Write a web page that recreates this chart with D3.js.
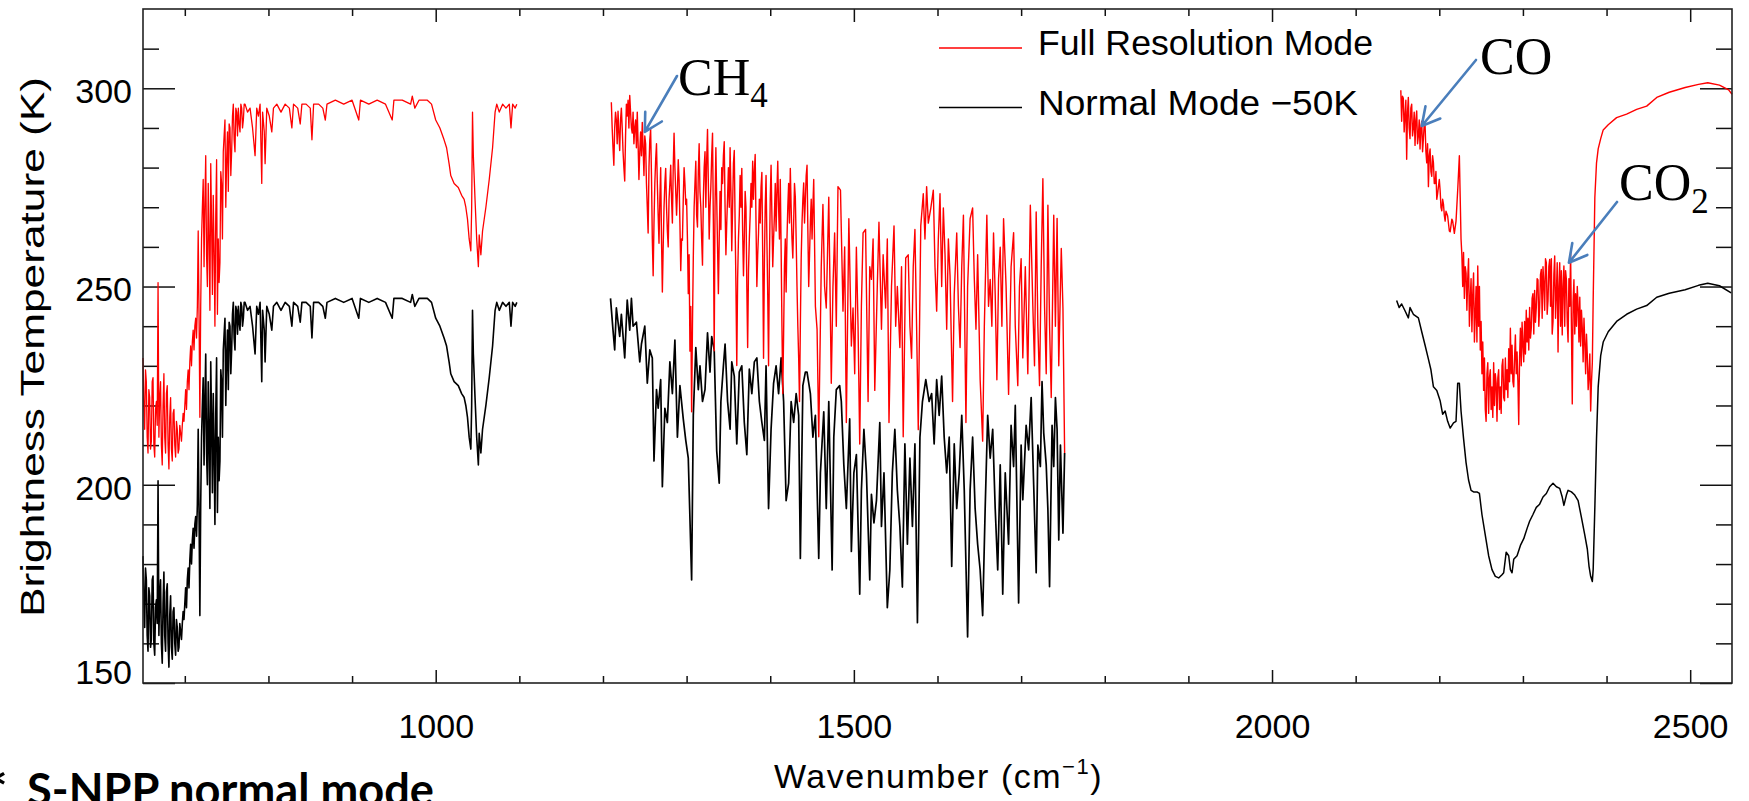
<!DOCTYPE html>
<html>
<head>
<meta charset="utf-8">
<script src="https://cdn.jsdelivr.net/npm/d3@7"></script>
<style>
  body { margin: 0; background: #fff; }
  svg { display: block; }
</style>
</head>
<body>
<svg id="chart"></svg>
<script>
// [wavenumber cm-1, brightness temperature K]
const fullLW = [[650,232],[651,220],[652,214],[653,229],[654,226],[655,212],[656,208],[657,224],[658,222],[659,209],[660,211],[661,226],[662,227],[663,210],[664,207],[665,219],[666,221],[667,215],[668,251],[669,212],[670,222],[671,226],[672,210],[673,205],[674,220],[675,228],[676,212],[677,208],[678,223],[679,225],[680,210],[681,204],[682,217],[683,222],[684,209],[685,206],[686,218],[687,219],[688,210],[689,207],[690,216],[691,214],[692,208],[693,209],[694,215],[695,213],[696,211],[697,215],[698,218],[699,216],[700,220],[701,224],[702,219],[703,226],[704,229],[705,224],[706,231],[707,235],[708,230],[709,236],[710,239],[711,234],[712,240],[713,242],[714,237],[715,245],[716,264],[717,243],[718,217],[719,245],[720,262],[721,270],[722,277],[723,255],[724,271],[725,283],[726,258],[727,250],[728,276],[729,262],[730,244],[731,281],[732,266],[733,248],[734,273],[735,259],[736,240],[737,268],[738,282],[739,243],[740,262],[741,251],[742,256],[743,279],[744,276],[745,262],[746,284],[747,288],[748,292],[749,270],[750,282],[751,289],[752,274],[753,291],[754,290],[755,278],[756,284],[757,293],[758,296],[759,287],[760,284],[761,295],[762,294],[763,288],[764,295],[765,291],[766,289],[767,296],[768,295],[769,290],[770,292],[771,296],[772,296],[775,294],[778,295],[781,290],[784,283],[786,295],[788,293],[790,296],[792,276],[793,294],[795,289],[796,281],[798,295],[801,293],[804,289],[806,295],[810,296],[815,294],[820,296],[825,295],[828,290],[830,296],[835,295],[838,291],[840,296],[845,296],[850,295],[852,287],[854,296],[860,296],[865,295],[868,292],[870,296],[880,297],[890,296],[900,297],[908,292],[910,297],[920,296],[930,297],[940,296],[948,292],[950,297],[960,297],[970,296],[972,298],[975,295],[980,297],[990,297],[995,296],[1000,292],[1005,290],[1010,287],[1013,285],[1016,281],[1018,278],[1022,276],[1027,275],[1031,273],[1034,272],[1036,270],[1038,267],[1040,262],[1042,259],[1043,270],[1044,294],[1045,283],[1047,272],[1049,262],[1051,255],[1052,263],[1054,258],[1056,264],[1060,270],[1064,277],[1068,285],[1071,294],[1073,296],[1076,294],[1080,296],[1084,295],[1088,296],[1090,290],[1092,296],[1095,295],[1097,296]];

const fullMW = [[1210,296.5],[1211,290],[1212,285],[1213,280.6],[1214,290],[1215,294],[1216,292],[1217,286],[1218,294.2],[1219,289],[1220,284.3],[1221,292],[1222,295],[1223,290],[1224,284],[1225,280],[1226,276.6],[1227,288],[1228,296],[1229,293],[1230,297],[1231,290],[1232,298.2],[1233,294],[1234,290],[1235,288.7],[1236,294],[1237,286],[1238,290],[1239,292],[1240,285],[1241,294],[1242,286],[1243,277],[1244,284],[1245,289],[1246,283],[1247,291.4],[1248,285],[1249,278],[1250,288],[1251,286],[1252,276],[1253,270],[1254,263.5],[1255,280],[1256,287],[1257,289.6],[1258,278],[1259,262],[1260,252.7],[1261,266],[1262,276],[1263,282],[1264,286],[1265,276],[1266,268],[1267,260.9],[1268,272],[1269,280],[1270,262],[1271,248.6],[1272,260],[1273,270],[1274,276],[1275,279.8],[1276,270],[1277,264],[1278,260],[1279,272],[1280,276],[1281,280.6],[1282,272],[1283,266],[1284,280],[1285,288.7],[1286,280],[1287,274],[1288,268],[1289,274],[1290,282],[1291,277],[1292,266],[1293,254],[1294,262],[1295,261.7],[1296,272],[1297,280],[1298,276],[1299,270.7],[1300,272],[1301,262],[1302,248.2],[1303,258],[1304,233.7],[1305,245],[1306,218.4],[1307,240],[1308,257.2],[1309,270],[1310,276],[1311,281.6],[1312,268],[1313,265],[1314,279],[1315,286],[1316,274],[1317,270],[1318,262],[1319,255.4],[1320,272],[1321,280],[1322,284],[1323,270],[1324,282],[1325,289.6],[1326,276],[1327,262],[1328,270],[1329,275.2],[1330,283],[1331,288.7],[1332,266],[1333,233.8],[1334,270],[1335,285],[1336,272],[1337,260],[1338,248.2],[1339,262],[1340,274],[1341,264.4],[1342,280],[1343,276],[1344,283],[1345,286.5],[1346,270],[1347,258],[1348,266],[1349,272.5],[1350,280],[1351,270],[1352,285],[1353,274],[1354,259],[1355,270],[1356,281],[1357,284.3],[1358,266],[1359,250],[1360,230.1],[1361,252],[1362,262],[1363,268],[1364,278],[1365,270],[1366,279.8],[1367,264],[1368,252.7],[1369,262],[1370,274],[1371,270],[1372,250],[1373,234.6],[1374,254],[1375,262],[1376,268],[1377,276],[1378,270],[1379,281.6],[1380,272],[1381,279],[1382,283.3],[1383,266],[1384,250],[1385,258],[1386,263.5],[1387,272],[1388,266],[1389,275],[1390,278.8],[1391,258],[1392,231.9],[1393,256],[1394,270],[1395,278],[1396,262],[1397,248],[1398,230],[1399,256],[1400,272],[1401,280.6],[1402,268],[1403,255],[1404,262],[1405,268],[1406,276],[1407,264],[1408,274],[1409,281.6],[1410,270],[1411,262],[1412,277],[1413,260],[1414,240],[1415,223],[1416,238],[1417,255],[1418,262],[1419,248.6],[1420,262],[1421,270],[1422,276],[1423,266],[1424,279.8],[1425,270],[1426,262],[1427,257.2],[1428,266],[1429,276],[1430,272.5],[1431,262],[1432,250],[1433,240],[1434,232],[1435,221],[1436,240],[1437,257],[1438,266],[1439,272],[1440,276.1],[1441,266],[1442,272],[1443,278],[1444,280.6],[1445,264],[1446,250],[1447,258],[1448,266.2],[1449,272],[1450,262],[1451,270],[1452,277],[1454,245],[1456,239.2],[1458,212.1],[1461,255],[1463,270.7],[1465,250],[1467,244.6],[1470,272.5],[1473,225.6],[1475,250],[1477,263.5],[1479,240],[1481,275.2],[1484,274.3],[1487,243.8],[1489,260],[1491,215.7],[1494,267.1],[1497,235],[1499,244.6],[1501,228],[1503,259.9],[1505,240],[1507,210.3],[1509,245],[1511,263.5],[1514,264.4],[1516,235],[1517,221],[1519,255],[1521,251.8],[1523,262],[1525,223.8],[1528,250],[1530,266.2],[1533,239.2],[1535,258],[1538,244.6],[1540,262],[1542,215.7],[1545,250],[1548,265.3],[1550,240],[1552,250],[1555,234.6],[1557,255],[1559,212.1],[1562,257.2],[1565,258],[1567,240],[1569,231.9],[1571,255],[1573,264.4],[1575,240],[1577,213.9],[1580,265.3],[1583,273.4],[1585,262],[1587,275.2],[1589,266],[1592,269.8],[1595,274.3],[1597,255],[1599,243.8],[1601,262],[1603,273.4],[1605,250],[1607,269.8],[1609,258],[1611,239.2],[1613,262],[1615,252.7],[1618,221],[1620,248],[1623,263.5],[1625,245],[1627,234.6],[1629,255],[1631,268],[1634,215.7],[1636,250],[1639,267.1],[1642,269.8],[1644,252],[1646,239.2],[1648,258],[1651,226.5],[1654,211],[1656,240],[1659,268],[1661,245],[1663,251.8],[1665,240],[1667,263.5],[1669,248],[1671,226.5],[1673,252],[1675,259.9],[1677,240],[1679,267.1],[1682,250],[1685,222.8],[1688,255],[1691,263.6],[1693,240],[1696,225],[1698,250],[1700,257],[1702,232],[1705,255],[1708,228],[1711,270.5],[1714,245],[1716,230],[1718,268.8],[1720,240],[1722,225],[1724,255],[1726,277.2],[1728,245],[1730,228],[1732,270.5],[1734,240],[1736,222],[1739,268],[1741,240],[1743,267.2],[1745,230],[1748,259.6],[1750,244.5],[1752,208]];

const fullSW = [[2154,299.5],[2155,291.7],[2156,298],[2157,297.5],[2158,289],[2159,293],[2160,297],[2161,282.1],[2162,294],[2163,297.7],[2164,290],[2165,287.3],[2166,295],[2167,296],[2168,288],[2169,290],[2170,294],[2171,285.6],[2172,292],[2173,294.3],[2174,286],[2175,288],[2176,292],[2177,284.7],[2178,290],[2179,291.7],[2180,284],[2181,287.3],[2182,291],[2183,290.8],[2184,284],[2185,281.2],[2186,286],[2187,275.2],[2188,283],[2189,284.7],[2190,279],[2191,277.8],[2192,283],[2193,281.2],[2194,276],[2195,276],[2196,279],[2197,272],[2198,273.4],[2200,277],[2201,274.3],[2202,270],[2203,269.1],[2204,272],[2205,270.8],[2206,268],[2207,266.5],[2208,269],[2210,267.8],[2212,264],[2213,263.8],[2215,267],[2216,266.5],[2218,263.4],[2220,266.5],[2222,274.3],[2224,283],[2225,272.5],[2226,262],[2227,258],[2228,250],[2229,258.6],[2230,247],[2231,255],[2232,253.4],[2233,244],[2234,252],[2235,257],[2236,240],[2237,246.5],[2238,252],[2239,238.6],[2240,248],[2241,253.4],[2242,236],[2243,243],[2244,250],[2245,236],[2246,255.2],[2247,240],[2248,250],[2249,234],[2250,241.2],[2251,228],[2252,236],[2253,223.8],[2254,232],[2255,219],[2256,216],[2257,228],[2258,230.8],[2259,218],[2260,227],[2261,229],[2262,219],[2263,224.7],[2264,217],[2265,230.8],[2266,220],[2267,228],[2268,225.6],[2269,216],[2270,227],[2271,229],[2272,219],[2273,224.7],[2274,218],[2275,230],[2276,231.7],[2277,222],[2278,221.2],[2279,232],[2280,224],[2281,229],[2282,222],[2283,234.3],[2284,226],[2285,239.5],[2286,228],[2287,235.2],[2288,226],[2289,224.7],[2290,232],[2291,237.8],[2292,228],[2293,233.5],[2294,226],[2295,215.2],[2296,232],[2297,239.5],[2298,230],[2299,241],[2300,235.2],[2301,231],[2302,241.2],[2303,233],[2304,244],[2305,236],[2306,242],[2307,234],[2308,244.7],[2309,237],[2310,239.5],[2311,247],[2312,248.2],[2313,238],[2314,249],[2315,241],[2316,244.7],[2317,252],[2318,251.7],[2319,240],[2320,244.7],[2321,253],[2322,254.3],[2323,242],[2324,255],[2325,250.8],[2326,244],[2327,257],[2328,256],[2329,243],[2330,246.5],[2331,255],[2332,256.8],[2333,245],[2334,257],[2335,238],[2336,241.2],[2337,253],[2338,257.7],[2339,242],[2340,248.2],[2341,256],[2342,233.5],[2343,250],[2344,256],[2345,240],[2346,254],[2347,237.8],[2348,250],[2349,255.2],[2350,240],[2351,254],[2352,251.7],[2353,241],[2354,236],[2355,252],[2356,245],[2357,258.6],[2358,240],[2359,220.4],[2360,246],[2361,251.7],[2362,238],[2363,248.2],[2364,240],[2365,250],[2366,244.7],[2367,236],[2368,247.3],[2369,235],[2370,244],[2371,239.5],[2372,231],[2373,242],[2374,236],[2375,228],[2376,238],[2377,232.6],[2378,224],[2379,227.4],[2380,233],[2381,218.6],[2382,226],[2383,230.8],[2384,246.5],[2386,272.5],[2388,281.2],[2390,284.7],[2393,287.3],[2396,289.5],[2402,290.8],[2412,292.6],[2424,293.5],[2436,294.7],[2448,295.5],[2460,297.7],[2475,299],[2494,300.2],[2510,301],[2521,301.4],[2535,300.8],[2546,299.6],[2550,298.5]];

// normal mode, already shifted by -50 K as in the legend
const normalLW = [[650,182],[651,170],[652,164],[653,179],[654,176],[655,162],[656,158],[657,174],[658,172],[659,159],[660,161],[661,176],[662,177],[663,160],[664,157],[665,169],[666,171],[667,165],[668,201],[669,162],[670,172],[671,176],[672,160],[673,155],[674,170],[675,178],[676,162],[677,158],[678,173],[679,175],[680,160],[681,154],[682,167],[683,172],[684,159],[685,156],[686,168],[687,169],[688,160],[689,157],[690,166],[691,164],[692,158],[693,159],[694,165],[695,163],[696,161],[697,165],[698,168],[699,166],[700,170],[701,174],[702,169],[703,176],[704,179],[705,174],[706,181],[707,185],[708,180],[709,186],[710,189],[711,184],[712,190],[713,192],[714,187],[715,195],[716,214],[717,193],[718,167],[719,195],[720,212],[721,220],[722,227],[723,205],[724,221],[725,233],[726,208],[727,200],[728,226],[729,212],[730,194],[731,231],[732,216],[733,198],[734,223],[735,209],[736,190],[737,218],[738,232],[739,193],[740,212],[741,201],[742,206],[743,229],[744,226],[745,212],[746,234],[747,238],[748,242],[749,220],[750,232],[751,239],[752,224],[753,241],[754,240],[755,228],[756,234],[757,243],[758,246],[759,237],[760,234],[761,245],[762,244],[763,238],[764,245],[765,241],[766,239],[767,246],[768,245],[769,240],[770,242],[771,246],[772,246],[775,244],[778,245],[781,240],[784,233],[786,245],[788,243],[790,246],[792,226],[793,244],[795,239],[796,231],[798,245],[801,243],[804,239],[806,245],[810,246],[815,244],[820,246],[825,245],[828,240],[830,246],[835,245],[838,241],[840,246],[845,246],[850,245],[852,237],[854,246],[860,246],[865,245],[868,242],[870,246],[880,247],[890,246],[900,247],[908,242],[910,247],[920,246],[930,247],[940,246],[948,242],[950,247],[960,247],[970,246],[972,248],[975,245],[980,247],[990,247],[995,246],[1000,242],[1005,240],[1010,237],[1013,235],[1016,231],[1018,228],[1022,226],[1027,225],[1031,223],[1034,222],[1036,220],[1038,217],[1040,212],[1042,209],[1043,220],[1044,244],[1045,233],[1047,222],[1049,212],[1051,205],[1052,213],[1054,208],[1056,214],[1060,220],[1064,227],[1068,235],[1071,244],[1073,246],[1076,244],[1080,246],[1084,245],[1088,246],[1090,240],[1092,246],[1095,245],[1097,246]];

const normalMW = [[1209,247],[1212,239],[1214,234],[1216,244.6],[1220,237.4],[1222,243],[1226,232],[1229,246.6],[1232,239],[1234,247],[1236,240],[1240,241],[1244,231],[1246,235.5],[1250,240],[1253,225.6],[1256,234],[1259,232],[1261,206],[1264,224],[1266,219.3],[1269,226.5],[1271,199.5],[1274,219.3],[1277,215.7],[1280,231],[1283,223],[1286,236.5],[1289,212],[1292,225],[1296,216.6],[1299,211.2],[1302,206.7],[1304,191.4],[1306,176],[1308,217.5],[1311,234.6],[1314,224],[1316,230],[1319,221],[1322,224],[1325,238.3],[1328,228.4],[1330,237.4],[1333,234],[1336,208.5],[1339,200.4],[1341,221],[1344,230],[1346,235.5],[1349,221],[1352,214],[1354,231],[1357,227.4],[1360,210.3],[1363,228.4],[1366,230],[1369,215.7],[1372,207.6],[1375,229.2],[1378,223],[1381,231],[1384,232],[1387,221],[1390,215.7],[1393,211.2],[1395,230],[1398,194],[1401,214],[1404,225.6],[1407,230],[1410,223],[1413,232],[1416,221],[1419,196],[1422,200.4],[1425,221],[1428,215.7],[1431,223],[1434,217.5],[1436,181.4],[1439,225],[1442,228.4],[1444,228.4],[1448,223],[1451,212],[1454,217.5],[1458,181.4],[1460,203],[1464,218.4],[1467,194],[1470,221],[1474,178.5],[1476,212],[1479,224],[1483,225],[1485,221],[1488,205],[1491,194],[1495,216.6],[1497,183.2],[1500,203],[1503,207.6],[1507,172.4],[1509,198.6],[1512,214],[1515,203],[1519,176],[1521,197.6],[1524,190.4],[1527,196],[1531,215.7],[1533,189.5],[1536,203],[1540,169],[1543,178.5],[1546,203],[1549,214],[1552,198.6],[1555,189.5],[1558,174.2],[1561,210.3],[1564,185],[1567,206.7],[1570,189.5],[1573,210.3],[1576,165.2],[1579,212],[1582,221],[1586,226.5],[1590,221],[1593,223],[1596,210.3],[1599,226.5],[1602,217.5],[1605,227.4],[1608,212],[1611,203],[1614,212],[1617,179.4],[1620,210.3],[1623,194],[1626,203],[1629,217.5],[1632,198.6],[1636,161.6],[1639,198.6],[1642,212],[1645,194],[1648,185],[1651,178.5],[1654,167],[1657,194],[1660,217.5],[1663,206.7],[1666,214],[1669,194],[1672,178.5],[1675,205],[1678,172.4],[1681,203],[1685,185],[1688,215],[1691,204.6],[1693,220],[1697,170.2],[1700,210],[1702,196.2],[1706,215],[1709,208.8],[1712,222],[1715,200],[1718,177.8],[1720,210],[1723,204.6],[1725,226],[1727,213.1],[1730,205],[1732,193.7],[1734,174.3],[1737,215],[1739,204.6],[1741,222],[1743,213.9],[1745,186.1],[1747,210],[1750,187.8],[1752,208]];

const normalSW = [[2149,246.5],[2152,244.7],[2155,245.6],[2159,243.9],[2163,242.1],[2165,244.7],[2169,243],[2175,242.1],[2179,238.6],[2183,235.2],[2187,231.7],[2190,229],[2193,224.7],[2197,223.8],[2201,221.2],[2204,217.8],[2207,218.6],[2210,216],[2213,214.3],[2217,215.6],[2220,216],[2222,225.6],[2224,225.6],[2226,218.6],[2229,211.7],[2232,205.6],[2235,201.2],[2238,198.6],[2241,198.2],[2245,198.2],[2248,197.8],[2251,192.5],[2255,187.3],[2259,182.1],[2263,178.6],[2267,176.9],[2271,176.5],[2275,177.3],[2277,177.8],[2280,183],[2283,182.1],[2285,178.6],[2287,177.8],[2289,181.2],[2293,182.1],[2297,184.7],[2301,186.4],[2305,189],[2308,190.8],[2312,192.5],[2316,194.3],[2320,195.1],[2324,196.9],[2328,197.8],[2332,199.5],[2336,200.4],[2340,199.5],[2344,199.1],[2347,196.9],[2349,194.8],[2352,197.4],[2354,198.6],[2358,198.2],[2362,197.4],[2366,196],[2370,191.7],[2374,187.3],[2377,183.8],[2379,179.5],[2381,176.9],[2383,175.6],[2384,178.6],[2386,194.3],[2388,211.7],[2390,224.7],[2393,232.6],[2396,236],[2402,238.6],[2412,241.2],[2424,243],[2436,244.3],[2448,245.2],[2460,247.3],[2475,248.3],[2494,249.2],[2510,250.3],[2521,250.8],[2535,250.2],[2549,248.4]];

const xDomain = [650, 2550];
const yDomain = [150, 320];
const xMajorTicks = [1000, 1500, 2000, 2500];
const yMajorTicks = [150, 200, 250, 300];

const seriesNames = ['Full Resolution Mode', 'Normal Mode \u221250K'];
const seriesColors = ['#ff0000', '#000000'];

// gas labels and the wavenumber / temperature each arrow points at
const gasLabels = [
  { main: 'CH', sub: '4', at: [1250, 289] },
  { main: 'CO', sub: '', at: [2179, 290.5] },
  { main: 'CO', sub: '2', at: [2355, 256] }
];

const width = 1749, height = 801;
const plot = { left: 143, right: 1732, top: 9, bottom: 683 };
const idlFont = '"Liberation Sans", Arial, sans-serif';

const svg = d3.select('#chart')
  .attr('width', width)
  .attr('height', height);

const x = d3.scaleLinear().domain(xDomain).range([plot.left, plot.right]);
const y = d3.scaleLinear().domain(yDomain).range([plot.bottom, plot.top]);

const xMinorTicks = d3.range(700, 2550, 100).filter(d => !xMajorTicks.includes(d));
const yMinorTicks = d3.range(160, 320, 10).filter(d => !yMajorTicks.includes(d));

function styleAxis(g) {
  g.select('.domain').remove();
  g.selectAll('line').attr('stroke', '#111').attr('stroke-width', 1.5);
  g.attr('font-family', idlFont).attr('font-size', 34);
  g.selectAll('text').attr('fill', '#000');
}

// bottom axis with labels
svg.append('g')
  .attr('transform', `translate(0,${plot.bottom})`)
  .call(d3.axisBottom(x).tickValues(xMajorTicks).tickSize(-13).tickPadding(31).tickFormat(d3.format('d')))
  .call(styleAxis);
svg.append('g')
  .attr('transform', `translate(0,${plot.bottom})`)
  .call(d3.axisBottom(x).tickValues(xMinorTicks).tickSize(-7).tickFormat(''))
  .call(styleAxis);

// top axis, ticks only
svg.append('g')
  .attr('transform', `translate(0,${plot.top})`)
  .call(d3.axisTop(x).tickValues(xMajorTicks).tickSize(-13).tickFormat(''))
  .call(styleAxis);
svg.append('g')
  .attr('transform', `translate(0,${plot.top})`)
  .call(d3.axisTop(x).tickValues(xMinorTicks).tickSize(-7).tickFormat(''))
  .call(styleAxis);

// left axis with labels
const yAxisG = svg.append('g')
  .attr('transform', `translate(${plot.left},0)`)
  .call(d3.axisLeft(y).tickValues(yMajorTicks).tickSize(-32).tickPadding(11).tickFormat(d3.format('d')))
  .call(styleAxis);
yAxisG.selectAll('text').attr('dy', '0.42em');
yAxisG.selectAll('.tick').filter(d => d === yDomain[0]).select('text').attr('dy', '0.02em');
svg.append('g')
  .attr('transform', `translate(${plot.left},0)`)
  .call(d3.axisLeft(y).tickValues(yMinorTicks).tickSize(-16).tickFormat(''))
  .call(styleAxis);

// right axis, ticks only
svg.append('g')
  .attr('transform', `translate(${plot.right},0)`)
  .call(d3.axisRight(y).tickValues(yMajorTicks).tickSize(-32).tickFormat(''))
  .call(styleAxis);
svg.append('g')
  .attr('transform', `translate(${plot.right},0)`)
  .call(d3.axisRight(y).tickValues(yMinorTicks).tickSize(-16).tickFormat(''))
  .call(styleAxis);

// spectra
const line = d3.line().x(d => x(d[0])).y(d => y(d[1]));
const bands = [
  { data: normalLW, color: seriesColors[1], w: 1.6 },
  { data: normalMW, color: seriesColors[1], w: 1.7 },
  { data: normalSW, color: seriesColors[1], w: 1.5 },
  { data: fullLW, color: seriesColors[0], w: 1.3 },
  { data: fullMW, color: seriesColors[0], w: 1.4 },
  { data: fullSW, color: seriesColors[0], w: 1.4 }
];
svg.append('g')
  .selectAll('path')
  .data(bands)
  .join('path')
  .attr('d', d => line(d.data))
  .attr('fill', 'none')
  .attr('stroke', d => d.color)
  .attr('stroke-width', d => d.w)
  .attr('stroke-linejoin', 'round');

// frame
svg.append('rect')
  .attr('x', plot.left)
  .attr('y', plot.top)
  .attr('width', plot.right - plot.left)
  .attr('height', plot.bottom - plot.top)
  .attr('fill', 'none')
  .attr('stroke', '#222')
  .attr('stroke-width', 1.6);

// legend
const legend = svg.append('g').attr('transform', 'translate(939,48)');
seriesNames.forEach((name, i) => {
  const row = legend.append('g').attr('transform', `translate(0,${i * 59.6})`);
  row.append('line')
    .attr('x1', 0).attr('x2', 83)
    .attr('stroke', seriesColors[i]).attr('stroke-width', 1.5);
  row.append('text')
    .attr('x', 99).attr('y', 7)
    .attr('font-family', idlFont).attr('font-size', 35)
    .attr('textLength', i === 0 ? 335 : 320)
    .attr('lengthAdjust', 'spacingAndGlyphs')
    .text(name);
});

// axis titles
svg.append('text')
  .attr('transform', 'translate(44,347) rotate(-90)')
  .attr('text-anchor', 'middle')
  .attr('font-family', idlFont).attr('font-size', 34)
  .attr('textLength', 540)
  .attr('lengthAdjust', 'spacingAndGlyphs')
  .text('Brightness Temperature (K)');

const xTitle = svg.append('text')
  .attr('x', 774).attr('y', 788)
  .attr('font-family', idlFont).attr('font-size', 34)
  .attr('letter-spacing', 1.5);
xTitle.append('tspan').text('Wavenumber (cm');
xTitle.append('tspan').attr('font-size', 22).attr('dy', -14).text('\u22121');
xTitle.append('tspan').attr('dy', 14).text(')');

// gas annotations with arrows
const labelLayout = [
  { tx: 678, ty: 95, tail: [677, 76], subDy: 12 },
  { tx: 1480, ty: 74, tail: [1476, 60], subDy: 12 },
  { tx: 1619, ty: 200, tail: [1617, 202], subDy: 13 }
];
const arrowColor = '#4a7ebb';
gasLabels.forEach((g, i) => {
  const L = labelLayout[i];
  const t = svg.append('text')
    .attr('x', L.tx).attr('y', L.ty)
    .attr('font-family', '"Liberation Serif", "Times New Roman", serif')
    .attr('font-size', 52);
  t.append('tspan').text(g.main);
  if (g.sub) t.append('tspan').attr('font-size', 35).attr('dy', L.subDy).text(g.sub);

  const tip = [x(g.at[0]), y(g.at[1])];
  const ang = Math.atan2(tip[1] - L.tail[1], tip[0] - L.tail[0]);
  const head = 20, spread = 0.5;
  const p1 = [tip[0] - head * Math.cos(ang - spread), tip[1] - head * Math.sin(ang - spread)];
  const p2 = [tip[0] - head * Math.cos(ang + spread), tip[1] - head * Math.sin(ang + spread)];
  svg.append('path')
    .attr('d', `M${L.tail}L${tip}M${p1}L${tip}L${p2}`)
    .attr('fill', 'none')
    .attr('stroke', arrowColor)
    .attr('stroke-width', 2.6)
    .attr('stroke-linecap', 'round')
    .attr('stroke-linejoin', 'round');
});

// footnote, cut by the bottom edge as in the slide
svg.append('text')
  .attr('x', 8).attr('y', 812)
  .attr('text-anchor', 'end')
  .attr('font-family', 'Lato, "Open Sans", sans-serif')
  .attr('font-weight', 700).attr('font-size', 58)
  .text('*');
svg.append('text')
  .attr('x', 27).attr('y', 806)
  .attr('font-family', 'Lato, "Open Sans", sans-serif')
  .attr('font-weight', 700).attr('font-size', 45)
  .attr('textLength', 407)
  .attr('lengthAdjust', 'spacingAndGlyphs')
  .text('S-NPP normal mode');
</script>
</body>
</html>
